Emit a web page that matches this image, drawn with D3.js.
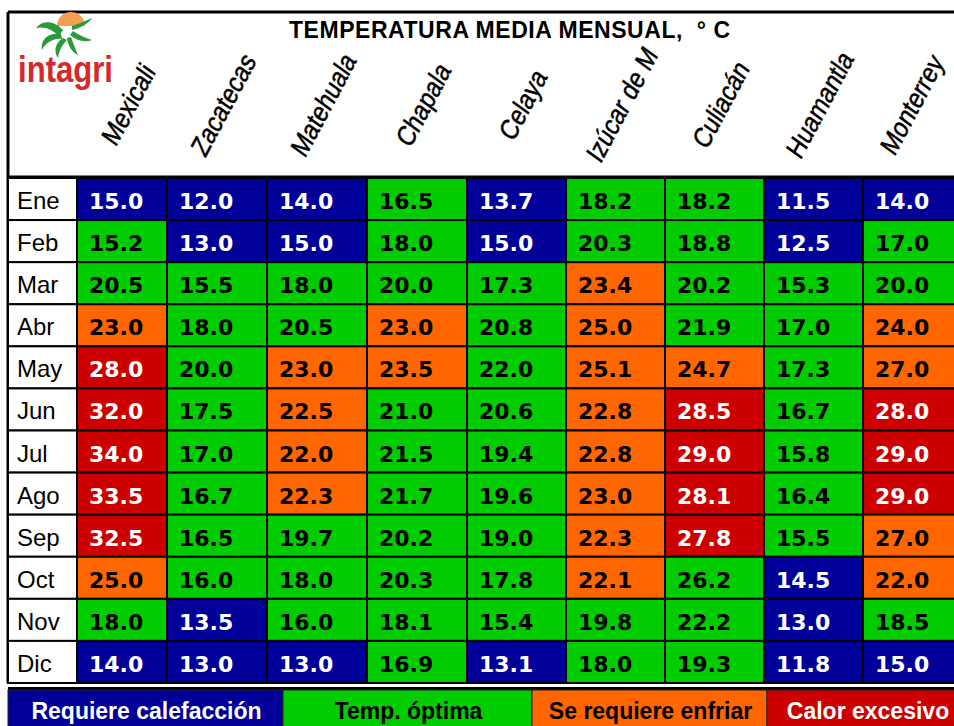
<!DOCTYPE html>
<html>
<head>
<meta charset="utf-8">
<script src="https://cdn.jsdelivr.net/npm/d3@7"></script>
<style>
  body { margin: 0; background: #fff; }
  svg { display: block; }
</style>
</head>
<body>
<svg width="954" height="726"></svg>
<script>
const months = ["Ene", "Feb", "Mar", "Abr", "May", "Jun", "Jul", "Ago", "Sep", "Oct", "Nov", "Dic"];
const cities = ["Mexicali", "Zacatecas", "Matehuala", "Chapala", "Celaya", "Izúcar de M", "Culiacán", "Huamantla", "Monterrey"];

const temps = [
  [15.0, 12.0, 14.0, 16.5, 13.7, 18.2, 18.2, 11.5, 14.0],
  [15.2, 13.0, 15.0, 18.0, 15.0, 20.3, 18.8, 12.5, 17.0],
  [20.5, 15.5, 18.0, 20.0, 17.3, 23.4, 20.2, 15.3, 20.0],
  [23.0, 18.0, 20.5, 23.0, 20.8, 25.0, 21.9, 17.0, 24.0],
  [28.0, 20.0, 23.0, 23.5, 22.0, 25.1, 24.7, 17.3, 27.0],
  [32.0, 17.5, 22.5, 21.0, 20.6, 22.8, 28.5, 16.7, 28.0],
  [34.0, 17.0, 22.0, 21.5, 19.4, 22.8, 29.0, 15.8, 29.0],
  [33.5, 16.7, 22.3, 21.7, 19.6, 23.0, 28.1, 16.4, 29.0],
  [32.5, 16.5, 19.7, 20.2, 19.0, 22.3, 27.8, 15.5, 27.0],
  [25.0, 16.0, 18.0, 20.3, 17.8, 22.1, 26.2, 14.5, 22.0],
  [18.0, 13.5, 16.0, 18.1, 15.4, 19.8, 22.2, 13.0, 18.5],
  [14.0, 13.0, 13.0, 16.9, 13.1, 18.0, 19.3, 11.8, 15.0]
];

// B = calefacción, G = óptima, O = enfriar, R = calor excesivo
const classes = [
  "BBBGBGGBB",
  "GBBGBGGBG",
  "GGGGGOGGG",
  "OGGOGOGGO",
  "RGOOGOOGO",
  "RGOGGORGR",
  "RGOGGORGR",
  "RGOGGORGR",
  "RGGGGORGO",
  "OGGGGOGBO",
  "GBGGGGGBG",
  "BBBGBGGBB"
];

const legendKeys = ["B", "G", "O", "R"];
const legendLabels = ["Requiere calefacción", "Temp. óptima", "Se requiere enfriar", "Calor excesivo"];

const fill = d3.scaleOrdinal().domain(legendKeys).range(["#000099", "#00cc00", "#ff6600", "#cc0000"]);
const ink = d3.scaleOrdinal().domain(legendKeys).range(["#fff", "#000", "#000", "#fff"]);

const svg = d3.select("svg");

// layout
const frameLeft = 8, frameTop = 12, headBottom = 178, tableBottom = 683;
const monthColRight = 77;
const colWidths = [90, 100, 100, 100, 99, 99, 99, 99, 99];
const colStarts = colWidths.map((cw, i) => monthColRight + d3.sum(colWidths.slice(0, i)));
const x = d3.scaleOrdinal().domain(cities).range(colStarts);
const w = d3.scaleOrdinal().domain(cities).range(colWidths);
const y = d3.scaleBand().domain(months).range([headBottom, tableBottom]);

// header frame
svg.append("line").attr("x1", frameLeft).attr("x2", 954).attr("y1", frameTop).attr("y2", frameTop)
  .attr("stroke", "#000").attr("stroke-width", 3);
svg.append("line").attr("x1", frameLeft).attr("x2", frameLeft).attr("y1", frameTop).attr("y2", tableBottom)
  .attr("stroke", "#000").attr("stroke-width", 3);

svg.append("text")
  .attr("x", 289).attr("y", 38)
  .attr("font-family", "Liberation Sans, Arial, sans-serif")
  .attr("font-weight", "bold").attr("font-size", 23)
  .attr("xml:space", "preserve")
  .attr("textLength", 441).attr("lengthAdjust", "spacing")
  .text("TEMPERATURA MEDIA MENSUAL,  ° C");

// logo
const logo = svg.append("g").attr("transform", "translate(64,38)");
logo.append("path")
  .attr("d", "M -7,-12 A 14,14 0 0 1 21,-12 Z")
  .attr("fill", "#f0a050");
const blades = [
  "M -1,-8 C -10,-18 -22,-18 -28,-10 C -20,-12 -12,-9 -5,-2 Z",
  "M -3,-4 C -16,-6 -24,2 -22,12 C -18,4 -10,0 -2,1 Z",
  "M -1,0 C -10,6 -10,14 -6,20 C -5,12 -1,6 3,2 Z",
  "M 3,0 C 4,8 8,14 14,17 C 11,10 9,5 7,-1 Z",
  "M 6,-3 C 12,2 20,5 28,2 C 21,0 15,-3 9,-7 Z",
  "M 8,-8 C 16,-10 24,-14 28,-20 C 22,-17 16,-15 8,-12 Z"
];
logo.selectAll("path.blade").data(blades).join("path")
  .attr("class", "blade").attr("d", d => d).attr("fill", "#2c9a3a");
svg.append("text")
  .attr("x", 18).attr("y", 82)
  .attr("font-family", "Liberation Sans, Arial, sans-serif")
  .attr("font-size", 36).attr("font-weight", "bold").attr("fill", "#d42a2a")
  .attr("textLength", 95).attr("lengthAdjust", "spacingAndGlyphs")
  .text("intagri");

// rotated city names
const cityPos = d => [x(d) + w(d) / 2 + 14, 110];
const cityText = svg.selectAll("text.city").data(cities).join("text")
  .attr("class", "city")
  .attr("transform", d => `translate(${cityPos(d)}) rotate(-62) skewX(-8) scale(0.88,1)`)
  .attr("text-anchor", "middle")
  .attr("font-family", "Liberation Sans, Arial, sans-serif")
  .attr("font-size", 27)
  .attr("stroke", "#000").attr("stroke-width", 0.5)
  .text(d => d);

// keep the last name inside the picture
cityText.each(function (d) {
  const r = this.getBoundingClientRect();
  if (r.right > 949) {
    const [cx, cy] = cityPos(d);
    d3.select(this).attr("transform",
      `translate(${cx - (r.right - 949)},${cy}) rotate(-62) skewX(-8) scale(0.88,1)`);
  }
});

svg.append("line").attr("x1", frameLeft).attr("x2", 954).attr("y1", headBottom - 1).attr("y2", headBottom - 1)
  .attr("stroke", "#000").attr("stroke-width", 3);

// month column
const rowsG = svg.append("g");
rowsG.selectAll("rect.month").data(months).join("rect")
  .attr("class", "month")
  .attr("x", frameLeft).attr("y", d => y(d))
  .attr("width", monthColRight - frameLeft).attr("height", y.bandwidth())
  .attr("fill", "#fff").attr("stroke", "#000").attr("stroke-width", 2);
rowsG.selectAll("text.month").data(months).join("text")
  .attr("class", "month")
  .attr("x", 17).attr("y", d => y(d) + 31)
  .attr("font-family", "Liberation Sans, Arial, sans-serif")
  .attr("font-size", 24)
  .text(d => d);

// cells
const cells = [];
months.forEach((m, i) => cities.forEach((c, j) => {
  cells.push({ month: m, city: c, value: temps[i][j], cls: classes[i][j] });
}));

const cellG = svg.append("g");
cellG.selectAll("rect").data(cells).join("rect")
  .attr("x", d => x(d.city)).attr("y", d => y(d.month))
  .attr("width", d => w(d.city)).attr("height", y.bandwidth())
  .attr("fill", d => fill(d.cls))
  .attr("stroke", "#000").attr("stroke-width", 2);
cellG.selectAll("text").data(cells).join("text")
  .attr("x", d => x(d.city) + 12).attr("y", d => y(d.month) + 31)
  .attr("font-family", "DejaVu Sans, Verdana, sans-serif")
  .attr("font-weight", "bold").attr("font-size", 22)
  .attr("fill", d => ink(d.cls))
  .text(d => d.value.toFixed(1));

// legend
const legendTop = 690;
const legendX = d3.scaleOrdinal().domain(legendKeys).range([8, 283, 532, 767]);
const legendW = d3.scaleOrdinal().domain(legendKeys).range([275, 249, 235, 200]);
svg.append("line").attr("x1", frameLeft).attr("x2", 954).attr("y1", legendTop - 1.5).attr("y2", legendTop - 1.5)
  .attr("stroke", "#000").attr("stroke-width", 3);
const lg = svg.append("g");
lg.selectAll("rect").data(legendKeys).join("rect")
  .attr("x", d => legendX(d)).attr("y", legendTop)
  .attr("width", d => legendW(d)).attr("height", 40)
  .attr("fill", d => fill(d))
  .attr("stroke", "#222").attr("stroke-width", 1);
lg.selectAll("text").data(legendKeys).join("text")
  .attr("x", d => legendX(d) + legendW(d) / 2 + 1).attr("y", 719)
  .attr("text-anchor", "middle")
  .attr("font-family", "Liberation Sans, Arial, sans-serif")
  .attr("font-weight", "bold").attr("font-size", 23)
  .attr("fill", d => ink(d))
  .text((d, i) => legendLabels[i]);
</script>
</body>
</html>
